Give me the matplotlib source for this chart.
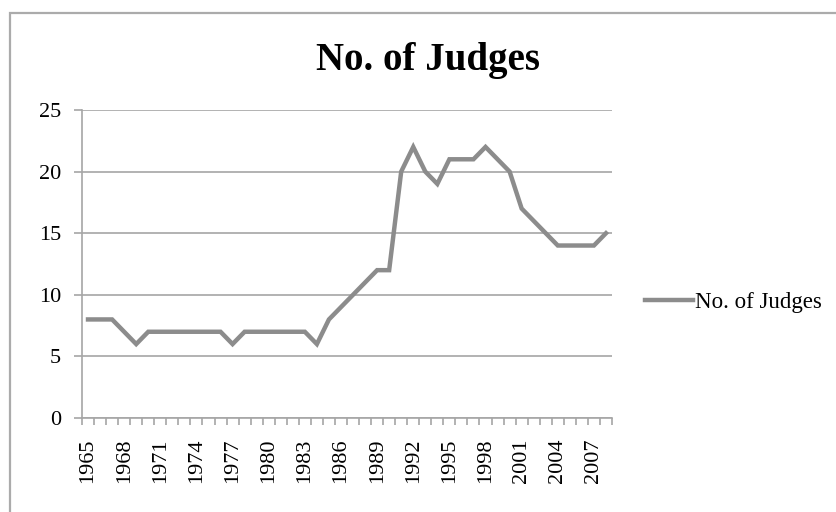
import numpy as np
import matplotlib
matplotlib.use('Agg')
import matplotlib.pyplot as plt
from matplotlib.patches import Rectangle

years = list(range(1965, 2009))
judges = [8, 8, 8, 7, 6, 7, 7, 7, 7, 7, 7, 7, 6, 7, 7, 7, 7, 7, 7, 6,
          8, 9, 10, 11, 12, 12, 20, 22, 20, 19, 21, 21, 21, 22, 21, 20,
          17, 16, 15, 14, 14, 14, 14, 15]
yticks = [0, 5, 10, 15, 20, 25]

plt.rcParams['font.family'] = ['Liberation Serif', 'DejaVu Serif']

fig = plt.figure(figsize=(8.36, 5.12), dpi=100)
# outer chart border
fig.patches.append(Rectangle((9.5 / 836, -0.1), 1.2, 1 - 13 / 512 + 0.1,
                             transform=fig.transFigure, fill=False,
                             edgecolor='#ababab', linewidth=1.6))

ax = fig.add_axes([82 / 836, 94 / 512, 530 / 836, 308 / 512])
x = np.arange(len(years))
ax.plot(x, judges, color='#8c8c8c', linewidth=3.2, label='No. of Judges',
        solid_joinstyle='miter')

ax.set_xlim(-0.5, len(years) - 0.5)
ax.set_ylim(0, 25)
ax.set_yticks(yticks)
ax.yaxis.grid(True, color='#a6a6a6', linewidth=1.2)
ax.set_axisbelow(True)

ax.set_xticks(x[::3])
ax.set_xticklabels([str(y) for y in years[::3]], rotation=90)
ax.set_xticks(np.arange(-0.5, len(years)), minor=True)
ax.tick_params(axis='x', which='major', length=0, pad=15, labelsize=16)
ax.tick_params(axis='x', which='minor', length=5, color='#a6a6a6', width=1.2)
ax.tick_params(axis='y', length=6, color='#a6a6a6', width=1.2, labelsize=16, pad=9)

for side in ['top', 'right']:
    ax.spines[side].set_visible(False)
for side in ['left', 'bottom']:
    ax.spines[side].set_color('#a6a6a6')
    ax.spines[side].set_linewidth(1.2)

fig.text(428 / 836, 1 - 70 / 512, 'No. of Judges', ha='center', va='baseline',
         fontsize=28, fontweight='bold')

ax.legend(loc='center left', bbox_to_anchor=(645 / 836, 1 - 302 / 512),
          bbox_transform=fig.transFigure, frameon=False, fontsize=16.5,
          handlelength=2.1, handletextpad=0.1, borderpad=0, borderaxespad=0)

fig.savefig('out.png', dpi=100)
